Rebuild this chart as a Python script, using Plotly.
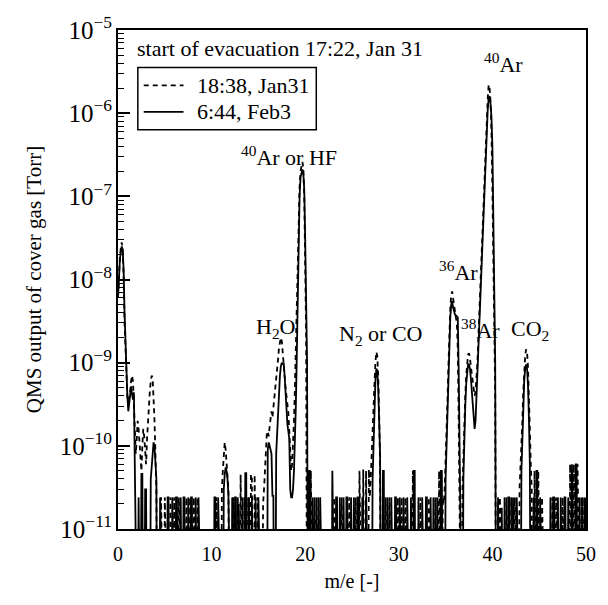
import numpy as np
import plotly.graph_objects as go

# Quadrupole mass spectra of the cover gas: partial pressure [Torr] vs m/e.
# Each scan is stored as runs of consecutive readings taken every 0.1 m/e,
# given as (first m/e, [readings...]). Outside the runs the reading is
# below the detection floor.
MZ_STEP = 0.1
MZ_MAX = 50.0
BELOW_FLOOR = 1e-13

# 18:38, Jan31 (dashed)
jan31_scan = [
    (0.0, [6e-9, 1.2e-8, 1.8e-8, 2.4e-8, 2.8e-8, 2.2e-8, 1.1e-8, 3e-9, 1.2e-9, 7e-10,
           4e-10, 3e-10, 3.5e-10, 4.5e-10, 6e-10, 7e-10, 6e-10, 3e-10, 1.2e-10, 8e-11,
           1.2e-10, 2e-10, 1.6e-10, 1.1e-10, 7e-11, 5e-11, 1e-10, 1.6e-10, 1.3e-10, 9e-11,
           6e-11, 1.2e-10, 2e-10, 3e-10, 4.5e-10, 6e-10, 7e-10, 6.5e-10, 4e-10, 2e-10,
           8e-11, 3e-11]),
    (4.6, [2.4e-11]), (5.0, [2.4e-11]), (5.6, [2.4e-11]), (6.0, [2.4e-11]),
    (6.5, [2.4e-11]), (7.3, [2.4e-11]), (7.7, [2.4e-11]), (8.1, [2.4e-11]),
    (8.5, [2.4e-11]), (10.5, [2.4e-11]),
    (11.1, [3e-11, 5e-11, 8e-11, 1.1e-10, 9e-11, 6e-11, 4e-11, 3e-11]),
    (12.3, [2.4e-11]), (12.8, [2.4e-11]), (13.1, [4.5e-11]), (13.5, [2.4e-11]),
    (13.9, [2.4e-11]), (14.2, [4.5e-11, 4.5e-11]), (14.6, [4.5e-11]), (14.9, [2.4e-11]),
    (15.5, [2e-11, 3e-11, 6e-11, 1e-10, 1.4e-10, 1.5e-10, 1.3e-10, 1.7e-10, 2.2e-10, 2.6e-10,
            2.2e-10, 2.8e-10, 3.5e-10, 4.5e-10, 6e-10, 8e-10, 1.1e-9, 1.5e-9, 1.9e-9, 2e-9,
            1.8e-9, 1.4e-9, 1e-9, 7e-10, 5e-10, 4e-10, 3e-10, 2.5e-10, 1.5e-10, 8e-11,
            5e-11, 6e-11, 1e-10, 2e-10, 5e-10, 1.5e-9, 5e-9, 2e-8, 6e-8, 1.3e-7,
            2e-7, 2.4e-7, 2.6e-7, 2.2e-7, 1e-7, 1.5e-8, 2e-9]),
    (20.6, [5e-11]), (21.0, [2.4e-11]), (21.4, [2.4e-11]), (23.1, [2.4e-11]),
    (23.9, [2.4e-11]), (24.7, [2.4e-11]), (25.4, [2.4e-11]), (25.8, [5e-11]),
    (26.2, [5.2e-11]), (26.5, [5e-11]),
    (26.8, [5.2e-11, 2.4e-11, 4e-11, 7e-11, 1.2e-10, 2.5e-10, 5.5e-10, 1e-9, 1.35e-9, 1.2e-9,
            7e-10, 2.5e-10, 6e-11]),
    (28.6, [2.4e-11]), (29.0, [2.4e-11]), (29.9, [2.4e-11]), (30.3, [2.4e-11]),
    (30.7, [2.4e-11]), (31.5, [5e-11]), (32.3, [2.4e-11]), (33.2, [2.4e-11]),
    (33.9, [2.4e-11]), (34.3, [5e-11]),
    (34.7, [2.4e-11, 2e-11, 3e-11, 6e-11, 1.3e-10, 3.5e-10, 9e-10, 2.2e-9, 4.5e-9, 6.5e-9,
            7.2e-9, 6e-9, 4.8e-9, 4e-9, 3.5e-9, 3e-9, 1.5e-9, 2e-10]),
    (36.8, [3e-11, 8e-11, 2e-10, 4e-10, 7e-10, 1e-9, 1.25e-9, 1.3e-9, 1.15e-9, 9e-10,
            7e-10, 5.5e-10, 4.5e-10, 4e-10, 4.5e-10, 6e-10, 1e-9, 2e-9, 4e-9, 8e-9,
            1.6e-8, 3.2e-8, 6.5e-8, 1.3e-7, 2.6e-7, 5e-7, 9e-7, 1.5e-6, 2.2e-6, 2e-6,
            1.4e-6, 6e-7, 1.2e-7, 1.5e-8, 3e-9, 4e-10]),
    (40.8, [2.4e-11]), (41.5, [2.4e-11]), (42.0, [2.4e-11]), (42.4, [2.4e-11]),
    (42.9, [3e-11, 5e-11, 1e-10, 2e-10, 4.5e-10, 8e-10, 1.2e-9, 1.45e-9, 1.35e-9, 9e-10,
            4.5e-10, 1.6e-10, 6e-11, 3e-11]),
    (44.5, [5e-11]), (44.9, [5e-11]), (45.3, [2.4e-11]), (46.4, [2.4e-11]),
    (46.8, [2.4e-11]), (47.5, [2.4e-11]), (48.3, [6e-11]), (48.7, [6e-11]),
    (49.1, [6e-11]), (49.5, [2.4e-11]), (49.8, [2.4e-11]),
]

# 6:44, Feb3 (solid)
feb3_scan = [
    (0.0, [6e-9, 1.1e-8, 1.7e-8, 2.2e-8, 2.5e-8, 2.3e-8, 1.3e-8, 4e-9, 1.6e-9, 1e-9,
           4e-10, 2.6e-10, 3.2e-10, 4.5e-10, 5.2e-10, 4.2e-10, 3.6e-10, 4.4e-10]),
    (2.2, [2.4e-11]), (2.5, [4.6e-11, 4.6e-11]), (2.9, [3e-11, 3e-11]),
    (3.5, [4e-11, 6e-11, 9e-11, 1.1e-10, 1e-10, 7e-11, 4e-11]),
    (4.5, [2.4e-11]), (5.3, [2.4e-11, 2.4e-11]), (5.8, [2.4e-11]), (6.2, [2.4e-11, 2.4e-11]),
    (6.7, [2.4e-11]), (7.0, [2.4e-11, 2.4e-11]), (7.5, [2.4e-11]), (7.8, [2.4e-11, 2.4e-11]),
    (8.3, [2.4e-11]), (8.6, [2.4e-11]), (10.3, [2.4e-11, 2.4e-11]), (10.7, [2.4e-11]),
    (11.3, [3e-11, 4.5e-11, 5.5e-11, 5e-11, 4e-11, 2.5e-11]),
    (12.2, [2.4e-11]), (12.5, [2.4e-11, 2.4e-11]), (12.9, [2e-11]), (13.3, [2.4e-11]),
    (13.6, [4.7e-11, 4.7e-11]), (14.0, [2.4e-11]), (14.3, [2.4e-11]), (14.7, [2.4e-11]),
    (15.0, [2.4e-11]),
    (16.0, [9e-11, 1.1e-10, 1e-10, 9e-11, 8e-11, 2.5e-11, 2.5e-11]),
    (16.9, [8e-11, 1.5e-10, 2.5e-10, 4.5e-10, 7e-10, 9e-10, 1e-9, 9.5e-10, 1e-9, 7e-10,
            4e-10, 2.5e-10, 1.8e-10, 1.5e-10, 1.2e-10, 3e-11, 2.4e-11, 2.4e-11, 3e-11, 5e-11,
            1e-10, 3e-10, 1.2e-9, 6e-9, 3e-8, 1e-7, 1.7e-7, 2e-7, 2.1e-7, 1.9e-7,
            1.2e-7, 3e-8, 5e-9, 1e-9]),
    (20.4, [5e-11, 5e-11]), (20.8, [2.4e-11]), (21.2, [2.4e-11]), (21.6, [2.4e-11]),
    (22.9, [5e-11]), (23.3, [2.4e-11, 2.4e-11]), (23.7, [2.4e-11]), (24.1, [2.4e-11]),
    (24.4, [2.4e-11, 2.4e-11]), (24.9, [2.4e-11]), (25.2, [2.4e-11]), (25.6, [2.4e-11, 2.4e-11]),
    (26.1, [2.4e-11]), (26.5, [2.4e-11]),
    (27.2, [4e-11, 1e-10, 3e-10, 6e-10, 8.5e-10, 8e-10, 5e-10, 2.5e-10, 8e-11]),
    (28.3, [5e-11, 5e-11]), (28.8, [2.4e-11]), (29.2, [2.4e-11]), (29.6, [2.4e-11, 2.4e-11]),
    (30.1, [2.4e-11]), (30.5, [2.4e-11]), (30.9, [2.4e-11]), (31.3, [2.4e-11]),
    (31.6, [5e-11, 5e-11]), (32.1, [2.4e-11]), (32.5, [2.4e-11]), (32.9, [2.4e-11, 2.4e-11]),
    (33.4, [2.4e-11]), (33.7, [2.4e-11]), (34.1, [2.4e-11]), (34.5, [5e-11, 5e-11]),
    (35.0, [4e-11, 1e-10, 2.8e-10, 7e-10, 1.7e-9, 3.5e-9, 5e-9, 5.5e-9, 4.6e-9, 4e-9,
            3.8e-9, 3.7e-9, 3.6e-9, 3.5e-9, 8e-10]),
    (36.9, [4e-11, 1.5e-10, 3e-10, 5.5e-10, 8e-10, 9.5e-10, 9.5e-10, 8.5e-10, 6.5e-10, 4.5e-10,
            3e-10, 2e-10, 1.6e-10, 2e-10, 4e-10, 8e-10, 1.6e-9, 3e-9, 6e-9, 1.2e-8,
            2.4e-8, 5e-8, 1e-7, 2e-7, 4e-7, 7e-7, 1.1e-6, 1.5e-6, 1.6e-6, 1.3e-6,
            9e-7, 4e-7, 8e-8, 1e-8, 1e-9]),
    (40.6, [2.4e-11]), (41.0, [1.8e-11]), (41.3, [2.4e-11]), (41.7, [2.4e-11, 2.4e-11]),
    (42.2, [2.4e-11]), (42.6, [2.4e-11]),
    (43.1, [5e-11, 1.2e-10, 3e-10, 6e-10, 8.5e-10, 9.5e-10, 8.5e-10, 5.5e-10, 2.2e-10, 6e-11]),
    (44.4, [2.4e-11]), (44.7, [5e-11, 5e-11]), (45.1, [2.4e-11]), (46.2, [2.4e-11]),
    (46.5, [2.4e-11, 2.4e-11]), (47.0, [2.4e-11]), (47.3, [2.4e-11]), (47.7, [2.4e-11, 2.4e-11]),
    (48.1, [2.4e-11]), (48.5, [6e-11]), (48.9, [6e-11, 6e-11]), (49.3, [2.4e-11]),
    (49.6, [2.4e-11]), (49.9, [2.4e-11]),
]

series_names = ["18:38, Jan31", "6:44, Feb3"]
series_dash = ["5px,4px", "solid"]

peak_labels = [
    ("<sup>40</sup>Ar or HF", 18.3, -6.52),
    ("H<sub>2</sub>O", 16.8, -8.58),
    ("N<sub>2</sub> or CO", 28.0, -8.67),
    ("<sup>36</sup>Ar", 36.4, -7.90),
    ("<sup>38</sup>Ar", 38.7, -8.60),
    ("<sup>40</sup>Ar", 41.2, -5.40),
    ("CO<sub>2</sub>", 44.0, -8.61),
]


def build_scan(runs):
    n = int(round(MZ_MAX / MZ_STEP)) + 1
    mz = np.round(np.arange(n) * MZ_STEP, 1)
    torr = np.full(n, BELOW_FLOOR)
    for start, readings in runs:
        i0 = int(round(start / MZ_STEP))
        torr[i0:i0 + len(readings)] = readings
    return mz, torr


FONT = "Liberation Serif"
TEXT_SIZE = 22
fig = go.Figure()
for runs, name, dash in zip([jan31_scan, feb3_scan], series_names, series_dash):
    mz, torr = build_scan(runs)
    fig.add_trace(go.Scatter(x=mz, y=torr, mode="lines", name=name, showlegend=False,
                             line=dict(color="black", width=1.8, dash=dash)))

for text, x, y in peak_labels:
    fig.add_annotation(x=x, y=y, text=text, showarrow=False,
                       font=dict(family=FONT, size=TEXT_SIZE, color="black"))

fig.add_annotation(xref="paper", yref="paper", x=0.036, y=0.962, xanchor="left",
                   yanchor="middle", text="start of evacuation 17:22, Jan 31",
                   showarrow=False, font=dict(family=FONT, size=TEXT_SIZE, color="black"))

# Key box in the upper left of the plotting area
key_box = dict(x0=0.0424, x1=0.4237, y0=0.800, y1=0.9248)
key_rows = [0.889, 0.836]
fig.add_shape(type="rect", xref="paper", yref="paper", **key_box,
              line=dict(color="black", width=1.5), fillcolor="white", layer="above")
for name, dash, yk in zip(series_names, series_dash, key_rows):
    fig.add_shape(type="line", xref="paper", yref="paper", x0=0.055, x1=0.140,
                  y0=yk, y1=yk, line=dict(color="black", width=1.8, dash=dash),
                  layer="above")
    fig.add_annotation(xref="paper", yref="paper", x=0.165, y=yk, xanchor="left",
                       yanchor="middle", text=name, showarrow=False,
                       font=dict(family=FONT, size=TEXT_SIZE, color="black"))

fig.update_layout(
    width=608, height=605,
    margin=dict(l=118, r=18, t=24, b=76),
    paper_bgcolor="white", plot_bgcolor="white",
    font=dict(family=FONT, size=20, color="black"),
    showlegend=False,
)
fig.update_xaxes(range=[0, 50], dtick=10, showgrid=False, zeroline=False,
                 showline=True, linecolor="black", linewidth=2, mirror=True,
                 ticks="", ticklabelstandoff=6, tickfont=dict(family=FONT, size=20),
                 title=dict(text="m/e [-]", font=dict(family=FONT, size=20), standoff=10))
fig.update_yaxes(type="log", range=[-11, -5], dtick=1, exponentformat="power",
                 showgrid=False, zeroline=False, showline=True, linecolor="black",
                 linewidth=2, mirror=True, ticks="inside", ticklen=12, tickwidth=1.5,
                 tickcolor="black",
                 minor=dict(ticks="inside", ticklen=6, tickwidth=1.2, tickcolor="black",
                            dtick="D1", showgrid=False),
                 tickfont=dict(family=FONT, size=20),
                 title=dict(text="QMS output of cover gas [Torr]",
                            font=dict(family=FONT, size=21), standoff=12))

fig.write_html("out.html")
